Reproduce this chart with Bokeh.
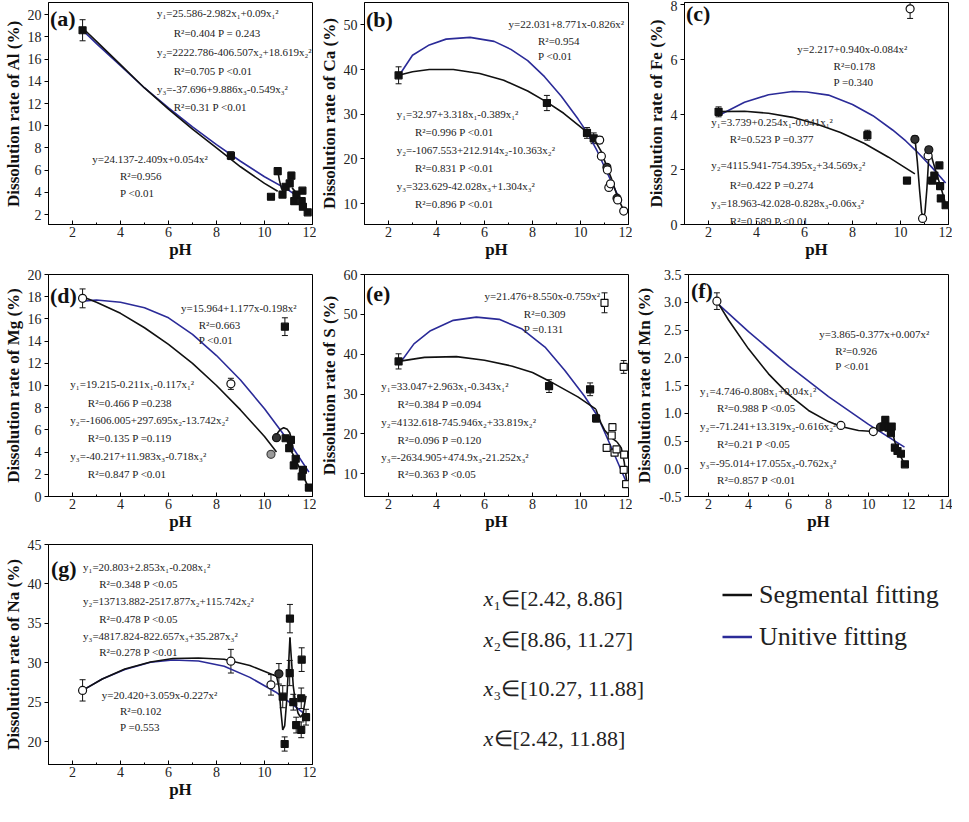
from bokeh.plotting import figure
from bokeh.layouts import row, column
from bokeh.models import (Range1d, FixedTicker, NumeralTickFormatter, Label,
                          Whisker, TeeHead, ColumnDataSource, Legend, LegendItem)
from bokeh.embed import file_html
from bokeh.resources import INLINE

SERIF = "Liberation Serif"
BLUE = "#2b2b98"
INK = "#111111"
TXT = "#222222"
NAN = float("nan")

# ---------------- data ----------------
x_ticks = [2, 4, 6, 8, 10, 12]
x_minor = [1, 3, 5, 7, 9, 11]
f_x_ticks = [2, 4, 6, 8, 10, 12, 14]
f_x_minor = [1, 3, 5, 7, 9, 11, 13]

# (a) Al
a_yticks = [2, 4, 6, 8, 10, 12, 14, 16, 18, 20]
a_ph = [2.42, 8.6, 10.27, 10.55, 10.75, 10.88, 11.05, 11.12, 11.24, 11.33, 11.55, 11.58, 11.6, 11.8]
a_rate = [18.6, 7.3, 3.6, 5.9, 3.8, 4.5, 4.8, 5.5, 3.2, 3.8, 3.2, 4.15, 2.7, 2.2]
a_err = [0.95, 0.35, 0, 0.3, 0, 0.2, 0.2, 0.3, 0, 0.15, 0, 0.2, 0.15, 0.1]
a_mark = ["s"] * 14
a_uni_ph = [2.42, 3, 4, 5, 6, 7, 8, 9, 10, 11, 11.6]
a_uni_rate = [18.6, 17.4, 15.4, 13.4, 11.6, 9.9, 8.3, 6.8, 5.4, 4.2, 3.3]
a_seg1_ph = [2.42, 3, 4, 5, 6, 7, 8, 9, 10, 10.55]
a_seg1_rate = [18.8, 17.6, 15.5, 13.4, 11.5, 9.7, 8.0, 6.3, 4.8, 4.1]
a_seg2_ph = [10.55, 10.62, 10.7, 10.8, 10.9, 11.0, 11.1]
a_seg2_rate = [6.0, 5.1, 4.4, 4.0, 4.2, 4.8, 5.6]
a_seg3_ph = [11.15, 11.35, 11.55, 11.7, 11.85]
a_seg3_rate = [4.4, 3.9, 3.3, 2.7, 2.1]
a_notes = ["y₁=25.586-2.982x₁+0.09x₁²", "R²=0.404  P = 0.243",
           "y₂=2222.786-406.507x₂+18.619x₂²", "R²=0.705  P <0.01",
           "y₃=-37.696+9.886x₃-0.549x₃²", "R²=0.31  P <0.01",
           "y=24.137-2.409x+0.054x²", "R²=0.956", "P <0.01"]

# (b) Ca
b_yticks = [10, 20, 30, 40, 50]
b_ph = [2.42, 8.6, 10.27, 10.55, 10.8, 10.87, 11.1, 11.12, 11.18, 11.25, 11.52, 11.55, 11.8]
b_rate = [38.7, 32.5, 25.8, 24.6, 24.2, 20.6, 18.1, 17.5, 13.6, 14.4, 11.2, 10.8, 8.3]
b_err = [1.9, 1.7, 1.2, 1.2, 0.8, 0.6, 0.5, 0.4, 0.4, 0.4, 0.5, 0.4, 0.3]
b_mark = ["s", "s", "s", "s", "o", "o", "c", "o", "o", "o", "c", "o", "o"]
b_uni_ph = [2.42, 3, 3.7, 4.4, 5.4, 6.4, 7.1, 7.8, 8.5, 9.2, 9.9, 10.3, 10.7, 11.1, 11.7]
b_uni_rate = [38.5, 43.2, 45.5, 46.8, 47.2, 46.3, 44.5, 42.0, 38.4, 34.0, 28.9, 25.7, 21.7, 17.0, 10.2]
b_seg1_ph = [2.42, 3, 3.7, 4.7, 5.8, 6.8, 7.8, 8.6, 9.3, 10.27]
b_seg1_rate = [38.7, 39.5, 40.0, 40.0, 39.1, 37.6, 35.2, 32.7, 30.2, 26.0]
b_seg2_ph = [10.27, 10.55, 10.85, 11.1, 11.3]
b_seg2_rate = [26.0, 24.6, 21.8, 18.2, 15.4]
b_seg3_ph = [11.3, 11.55, 11.8]
b_seg3_rate = [15.4, 11.4, 8.4]
b_notes = ["y=22.031+8.771x-0.826x²", "R²=0.954", "P <0.01",
           "y₁=32.97+3.318x₁-0.389x₁²", "R²=0.996  P <0.01",
           "y₂=-1067.553+212.914x₂-10.363x₂²", "R²=0.831  P <0.01",
           "y₃=323.629-42.028x₃+1.304x₃²", "R²=0.896  P <0.01"]

# (c) Fe
c_yticks = [0, 2, 4, 6, 8]
c_ph = [2.42, 8.62, 10.27, 10.4, 10.6, 10.92, 11.15, 11.18, 11.32, 11.41, 11.62, 11.65, 11.68, 11.88]
c_rate = [4.1, 3.25, 1.6, 7.85, 3.1, 0.22, 2.5, 2.72, 1.6, 1.78, 2.15, 1.4, 0.95, 0.7]
c_err = [0.18, 0.18, 0, 0.35, 0.12, 0.05, 0.1, 0.12, 0, 0, 0.1, 0, 0, 0]
c_mark = ["s", "s", "s", "o", "c", "o", "o", "c", "s", "s", "s", "s", "s", "s"]
c_uni_ph = [2.42, 3.5, 4.5, 5.5, 6.1, 7, 8, 8.85, 9.67, 10.22, 10.63, 11.32, 11.88]
c_uni_rate = [3.97, 4.45, 4.72, 4.84, 4.82, 4.71, 4.37, 3.96, 3.44, 3.04, 2.7, 2.07, 1.51]
c_seg1_ph = [2.42, 3.5, 4.5, 5.5, 6.5, 7.5, 8.5, 9.5, 10.6]
c_seg1_rate = [4.11, 4.12, 4.05, 3.9, 3.66, 3.35, 2.95, 2.45, 1.84]
c_seg2_ph = [10.6, 10.7, 10.8, 10.88, 10.95, 11.02, 11.1, 11.16, 11.2]
c_seg2_rate = [3.15, 2.3, 1.2, 0.45, 0.2, 0.45, 1.3, 2.2, 2.75]
c_seg3_ph = [11.2, 11.45, 11.7, 11.88]
c_seg3_rate = [2.75, 2.0, 1.3, 0.75]
c_notes = ["y=2.217+0.940x-0.084x²", "R²=0.178", "P =0.340",
           "y₁=3.739+0.254x₁-0.041x₁²", "R²=0.523  P =0.377",
           "y₂=4115.941-754.395x₂+34.569x₂²", "R²=0.422  P =0.274",
           "y₃=18.963-42.028-0.828x₃-0.06x₃²", "R²=0.589  P <0.01"]

# (d) Mg
d_yticks = [0, 2, 4, 6, 8, 10, 12, 14, 16, 18, 20]
d_ph = [2.42, 8.6, 10.27, 10.5, 10.85, 10.88, 11.1, 11.03, 11.22, 11.3, 11.55, 11.6, 11.85]
d_rate = [17.85, 10.15, 3.8, 5.3, 15.3, 5.25, 5.1, 4.35, 2.8, 3.4, 1.8, 2.4, 0.8]
d_err = [0.85, 0.5, 0, 0, 0.8, 0, 0, 0, 0, 0, 0, 0, 0]
d_mark = ["o", "o", "g", "c", "s", "s", "s", "s", "s", "s", "s", "s", "s"]
d_uni_ph = [2.42, 3, 4, 5, 6, 7, 8, 9, 10, 11, 11.85]
d_uni_rate = [17.6, 17.7, 17.5, 17.0, 16.1, 14.6, 12.7, 10.5, 7.9, 5.0, 2.2]
d_seg1_ph = [2.42, 3, 4, 5, 6, 7, 8, 9, 10, 10.5]
d_seg1_rate = [18.0, 17.5, 16.5, 15.2, 13.7, 12.0, 10.0, 7.8, 5.4, 4.0]
d_seg2_ph = [10.47, 10.55, 10.67, 10.8, 10.95, 11.05, 11.12, 11.18]
d_seg2_rate = [5.3, 5.75, 6.05, 6.2, 6.05, 5.75, 5.2, 4.4]
d_seg3_ph = [11.0, 11.3, 11.6, 11.9]
d_seg3_rate = [4.6, 3.3, 1.9, 0.5]
d_notes = ["y=15.964+1.177x-0.198x²", "R²=0.663", "P <0.01",
           "y₁=19.215-0.211x₁-0.117x₁²", "R²=0.466  P =0.238",
           "y₂=-1606.005+297.695x₂-13.742x₂²", "R²=0.135  P =0.119",
           "y₃=-40.217+11.983x₃-0.718x₃²", "R²=0.847  P <0.01"]

# (e) S
e_yticks = [10, 20, 30, 40, 50, 60]
e_ph = [2.42, 8.69, 10.4, 10.65, 11.0, 11.09, 11.3, 11.33, 11.42, 11.5, 11.8, 11.82, 11.8, 11.9]
e_rate = [38.2, 32.0, 31.2, 23.9, 52.9, 16.5, 19.6, 21.7, 15.3, 16.1, 36.8, 14.8, 11.0, 7.4]
e_err = [1.9, 1.6, 1.6, 0.9, 2.5, 0.6, 0.5, 0.6, 0.5, 0.4, 1.6, 0.5, 0.4, 0.5]
e_mark = ["s", "s", "s", "s", "q", "q", "q", "q", "q", "q", "q", "q", "q", "q"]
e_uni_ph = [2.42, 3.06, 3.75, 4.7, 5.66, 6.61, 7.57, 8.52, 9.34, 10.16, 10.71, 11.25, 11.88]
e_uni_rate = [37.3, 42.6, 45.9, 48.5, 49.3, 48.75, 46.3, 41.8, 36.0, 29.5, 24.5, 17.1, 8.3]
e_seg1_ph = [2.42, 3.5, 4.83, 6.0, 7.16, 8.0, 8.69, 9.89, 10.64]
e_seg1_rate = [38.2, 39.2, 39.4, 38.5, 37.0, 35.4, 33.3, 29.3, 26.2]
e_seg2_ph = [10.64, 10.84, 11.0, 11.25, 11.52]
e_seg2_rate = [26.2, 22.9, 21.0, 19.2, 18.0]
e_seg3_ph = [11.52, 11.7, 11.82, 11.93]
e_seg3_rate = [18.0, 16.5, 13.0, 8.0]
e_notes = ["y=21.476+8.550x-0.759x²", "R²=0.309", "P =0.131",
           "y₁=33.047+2.963x₁-0.343x₁²", "R²=0.384  P =0.094",
           "y₂=4132.618-745.946x₂+33.819x₂²", "R²=0.096 P =0.120",
           "y₃=-2634.905+474.9x₃-21.252x₃²", "R²=0.363 P <0.05"]

# (f) Mn
f_yticks = [-0.5, 0.0, 0.5, 1.0, 1.5, 2.0, 2.5, 3.0, 3.5]
f_ph = [2.42, 8.62, 10.24, 10.6, 10.76, 10.84, 11.0, 11.16, 11.12, 11.32, 11.45, 11.62, 11.82]
f_rate = [3.02, 0.78, 0.67, 0.75, 0.76, 0.88, 0.74, 0.76, 0.64, 0.38, 0.32, 0.27, 0.08]
f_err = [0.15, 0.03, 0.02, 0, 0, 0, 0, 0, 0, 0, 0, 0, 0]
f_mark = ["o", "o", "o", "c", "s", "s", "s", "s", "s", "s", "s", "s", "s"]
f_uni_ph = [2.42, 4, 6, 8, 10, 11.8]
f_uni_rate = [2.99, 2.47, 1.86, 1.3, 0.8, 0.39]
f_seg1_ph = [2.42, 3, 4, 5, 6, 7, 8, 8.62, 9.5, 10.24]
f_seg1_rate = [3.02, 2.68, 2.16, 1.71, 1.34, 1.05, 0.85, 0.76, 0.69, 0.67]
f_seg2_ph = [10.24, 10.6, 10.9, 11.16]
f_seg2_rate = [0.67, 0.72, 0.76, 0.76]
f_seg3_ph = [11.16, 11.3, 11.5, 11.82]
f_seg3_rate = [0.76, 0.5, 0.3, 0.07]
f_notes = ["y=3.865-0.377x+0.007x²", "R²=0.926", "P <0.01",
           "y₁=4.746-0.808x₁+0.04x₁²", "R²=0.988  P <0.05",
           "y₂=-71.241+13.319x₂-0.616x₂²", "R²=0.21  P <0.05",
           "y₃=-95.014+17.055x₃-0.762x₃²", "R²=0.857  P <0.01"]

# (g) Na
g_yticks = [20, 25, 30, 35, 40, 45]
g_ph = [2.42, 8.6, 10.27, 10.6, 10.76, 10.84, 11.06, 11.05, 11.2, 11.32, 11.53, 11.53, 11.55, 11.73]
g_rate = [26.5, 30.2, 27.2, 28.6, 25.7, 19.7, 35.6, 28.7, 25.0, 22.1, 25.5, 21.5, 30.4, 23.1]
g_err = [1.35, 1.5, 1.3, 1.3, 1.4, 0.9, 1.8, 1.6, 1.0, 1.0, 1.3, 1.0, 1.5, 1.0]
g_mark = ["o", "o", "o", "c", "s", "s", "s", "s", "s", "s", "s", "s", "s", "s"]
g_uni_ph = [2.42, 3.24, 4.18, 5.25, 6.18, 7.25, 8.32, 9.39, 10.46, 11.26, 11.8]
g_uni_rate = [26.5, 27.95, 29.15, 30.07, 30.35, 30.23, 29.55, 28.15, 26.3, 24.5, 23.2]
g_seg1_ph = [2.42, 3.24, 4.18, 5.25, 6.18, 7.25, 8.32, 9.39, 10.5]
g_seg1_rate = [26.5, 27.95, 29.2, 30.1, 30.55, 30.6, 30.45, 29.65, 28.3]
g_seg2_ph = [10.5, 10.6, 10.68, 10.76, 10.84, 10.92, 11.0, 11.06]
g_seg2_rate = [28.3, 27.0, 24.0, 21.5, 22.0, 25.0, 29.5, 33.2]
g_seg3_ph = [11.06, 11.12, 11.2, 11.3, 11.4, 11.5, 11.6, 11.73]
g_seg3_rate = [33.2, 30.5, 27.0, 24.8, 23.6, 23.1, 23.5, 25.8]
g_notes = ["y₁=20.803+2.853x₁-0.208x₁²", "R²=0.348  P <0.05",
           "y₂=13713.882-2517.877x₂+115.742x₂²", "R²=0.478  P <0.05",
           "y₃=4817.824-822.657x₃+35.287x₃²", "R²=0.278  P <0.01",
           "y=20.420+3.059x-0.227x²", "R²=0.102", "P =0.553"]

range_vars = ["x", "x", "x", "x"]
range_rest = ["₁∈[2.42, 8.86]", "₂∈[8.86, 11.27]", "₃∈[10.27, 11.88]", "∈[2.42, 11.88]"]
legend_labels = ["Segmental fitting", "Unitive fitting"]

# ---------------- layout (positions / sizes) ----------------
W1, W2, W3 = 316, 316, 320
R1, R2, R3 = 264, 272, 268
COLB = {1: (44, 4), 2: (46, 4), 3: (52, 4)}
ROWB = {1: (2, 40), 2: (10, 40), 3: (8, 40)}

NOTE_POS = {
    "a": [(5.52, 20.15), (6.22, 18.33), (5.52, 16.64), (6.22, 14.94), (5.52, 13.27), (6.22, 11.67), (2.82, 6.99), (3.98, 5.44), (3.98, 3.92)],
    "b": [(7.0, 50.2), (8.23, 46.4), (8.23, 43.0), (2.34, 30.0), (3.1, 26.0), (2.34, 22.06), (3.1, 17.9), (2.34, 14.0), (3.1, 9.8)],
    "c": [(5.7, 6.37), (7.21, 5.76), (7.21, 5.17), (2.11, 3.72), (2.89, 3.1), (2.11, 2.18), (2.89, 1.44), (2.11, 0.77), (2.89, 0.14)],
    "d": [(6.52, 16.98), (7.26, 15.45), (7.26, 14.13), (1.91, 10.1), (2.64, 8.46), (1.91, 6.85), (2.64, 5.23), (1.91, 3.65), (2.64, 2.0)],
    "e": [(6.0, 54.5), (7.64, 50.2), (7.64, 46.3), (1.7, 31.9), (2.38, 27.4), (1.7, 23.05), (2.38, 18.6), (1.7, 14.3), (2.38, 9.9)],
    "f": [(7.54, 2.42), (8.34, 2.13), (8.34, 1.86), (1.58, 1.4), (2.43, 1.09), (1.58, 0.77), (2.43, 0.44), (1.58, 0.105), (2.43, -0.2)],
    "g": [(2.44, 42.2), (3.11, 40.0), (2.44, 37.8), (3.11, 35.6), (2.44, 33.4), (3.11, 31.4), (3.22, 25.9), (3.98, 23.9), (3.98, 21.9)],
}
LETTER_POS = {"a": (1.06, 19.7), "b": (1.06, 51.3), "c": (1.06, 7.67), "d": (1.06, 18.1),
              "e": (1.06, 55.3), "f": (1.12, 3.21), "g": (1.1, 42.0)}

MARK = {"s": ("square", INK, INK, 7), "q": ("square", "white", INK, 7),
        "o": ("circle", "white", INK, 8), "c": ("circle", "#333333", INK, 8),
        "g": ("circle", "#9a9a9a", "#444444", 8)}


def make_panel(key, ylabel, width, colb, rowb, height, xr, yr, xt, xm, yt,
               ph, rate, err, marks, uni, segs, notes, yfmt=None):
    l, r = colb
    t, b = rowb
    p = figure(width=width, height=height, x_range=Range1d(*xr), y_range=Range1d(*yr),
               output_backend="svg", toolbar_location=None,
               min_border_left=l, min_border_right=r, min_border_top=t, min_border_bottom=b)
    p.grid.visible = False
    p.outline_line_color = "black"
    p.outline_line_width = 1
    xa, ya = p.xaxis[0], p.yaxis[0]
    xa.ticker = FixedTicker(ticks=xt, minor_ticks=xm)
    ya.ticker = FixedTicker(ticks=yt)
    if yfmt:
        ya.formatter = NumeralTickFormatter(format=yfmt)
    xa.major_tick_in, xa.major_tick_out = 4, 0
    xa.minor_tick_in, xa.minor_tick_out = 2, 0
    ya.major_tick_in, ya.major_tick_out = 0, 4
    ya.minor_tick_line_color = None
    for ax in (xa, ya):
        ax.axis_line_color = "black"
        ax.major_label_text_font = SERIF
        ax.major_label_text_font_size = "14px"
        ax.major_label_text_color = TXT
        ax.axis_label_text_font = SERIF
        ax.axis_label_text_font_style = "bold"
        ax.axis_label_text_color = "#111111"
    xa.axis_label = "pH"
    xa.axis_label_text_font_size = "17px"
    xa.major_label_standoff = 2
    xa.axis_label_standoff = 0
    ya.axis_label = ylabel
    ya.axis_label_text_font_size = "17px"
    ya.major_label_standoff = 3
    ya.axis_label_standoff = 2

    # curves
    p.line(uni[0], uni[1], line_color=BLUE, line_width=1.6)
    for sx, sy in segs:
        p.line(sx, sy, line_color=INK, line_width=1.6)

    # error bars
    eb = [(x, y, e) for x, y, e in zip(ph, rate, err) if e > 0]
    if eb:
        esrc = ColumnDataSource(dict(x=[v[0] for v in eb],
                                     lo=[v[1] - v[2] for v in eb],
                                     hi=[v[1] + v[2] for v in eb]))
        p.add_layout(Whisker(source=esrc, base="x", lower="lo", upper="hi",
                             line_color=INK, line_width=1,
                             lower_head=TeeHead(size=6, line_color=INK, line_width=1),
                             upper_head=TeeHead(size=6, line_color=INK, line_width=1)))

    # points
    src = ColumnDataSource(dict(x=ph, y=rate,
                                marker=[MARK[m][0] for m in marks],
                                fill=[MARK[m][1] for m in marks],
                                line=[MARK[m][2] for m in marks],
                                size=[MARK[m][3] for m in marks]))
    p.scatter(x="x", y="y", source=src, marker="marker", size="size",
              fill_color="fill", line_color="line", line_width=1.2)

    # annotations
    for txt, (nx, ny) in zip(notes, NOTE_POS[key]):
        p.add_layout(Label(x=nx, y=ny, text=txt, text_font=SERIF, text_font_size="11px",
                           text_color=TXT, text_baseline="middle", text_align="left"))
    lx, ly = LETTER_POS[key]
    p.add_layout(Label(x=lx, y=ly, text="(" + key + ")", text_font=SERIF,
                       text_font_size="22px", text_font_style="bold", text_color="#111111",
                       text_baseline="middle", text_align="left"))
    return p


pa = make_panel("a", "Dissolution rate of Al (%)", W1, COLB[1], ROWB[1], R1, (1, 12), (1.1, 21.1),
                x_ticks, x_minor, a_yticks, a_ph, a_rate, a_err, a_mark,
                (a_uni_ph, a_uni_rate),
                [(a_seg1_ph, a_seg1_rate), (a_seg2_ph, a_seg2_rate), (a_seg3_ph, a_seg3_rate)], a_notes)
pb = make_panel("b", "Dissolution rate of Ca (%)", W2, COLB[2], ROWB[1], R1, (1, 12), (5.3, 55),
                x_ticks, x_minor, b_yticks, b_ph, b_rate, b_err, b_mark,
                (b_uni_ph, b_uni_rate),
                [(b_seg1_ph, b_seg1_rate), (b_seg2_ph, b_seg2_rate), (b_seg3_ph, b_seg3_rate)], b_notes)
pc = make_panel("c", "Dissolution rate of Fe (%)", W3, COLB[3], ROWB[1], R1, (1, 12), (0, 8.08),
                x_ticks, x_minor, c_yticks, c_ph, c_rate, c_err, c_mark,
                (c_uni_ph, c_uni_rate),
                [(c_seg1_ph, c_seg1_rate), (c_seg2_ph, c_seg2_rate), (c_seg3_ph, c_seg3_rate)], c_notes)
pd_ = make_panel("d", "Dissolution rate of Mg (%)", W1, COLB[1], ROWB[2], R2, (1, 12), (0, 20),
                 x_ticks, x_minor, d_yticks, d_ph, d_rate, d_err, d_mark,
                 (d_uni_ph, d_uni_rate),
                 [(d_seg1_ph, d_seg1_rate), (d_seg2_ph, d_seg2_rate), (d_seg3_ph, d_seg3_rate)], d_notes)
pe = make_panel("e", "Dissolution rate of S (%)", W2, COLB[2], ROWB[2], R2, (1, 12), (4.3, 60),
                x_ticks, x_minor, e_yticks, e_ph, e_rate, e_err, e_mark,
                (e_uni_ph, e_uni_rate),
                [(e_seg1_ph, e_seg1_rate), (e_seg2_ph, e_seg2_rate), (e_seg3_ph, e_seg3_rate)], e_notes)
pf = make_panel("f", "Dissolution rate of Mn (%)", W3, COLB[3], ROWB[2], R2, (1, 14), (-0.5, 3.5),
                f_x_ticks, f_x_minor, f_yticks, f_ph, f_rate, f_err, f_mark,
                (f_uni_ph, f_uni_rate),
                [(f_seg1_ph, f_seg1_rate), (f_seg2_ph, f_seg2_rate), (f_seg3_ph, f_seg3_rate)], f_notes,
                yfmt="0.0")
pg = make_panel("g", "Dissolution rate of Na (%)", W1, COLB[1], ROWB[3], R3, (1, 12), (17.1, 45),
                x_ticks, x_minor, g_yticks, g_ph, g_rate, g_err, g_mark,
                (g_uni_ph, g_uni_rate),
                [(g_seg1_ph, g_seg1_rate), (g_seg2_ph, g_seg2_rate), (g_seg3_ph, g_seg3_rate)], g_notes)

# ---------------- legend / range panel ----------------
FW = W2 + W3
FH = R3 - ROWB[3][0] - ROWB[3][1]          # frame height, same as panel (g)
fx = figure(width=FW, height=R3, x_range=Range1d(0, FW), y_range=Range1d(0, FH),
            output_backend="svg", toolbar_location=None, x_axis_type=None, y_axis_type=None,
            min_border_left=0, min_border_right=0,
            min_border_top=ROWB[3][0], min_border_bottom=ROWB[3][1])
fx.grid.visible = False
fx.outline_line_color = None

RANGE_X = 167
RANGE_Y = [166, 125, 76, 26]
for v, rest, ry in zip(range_vars, range_rest, RANGE_Y):
    fx.add_layout(Label(x=RANGE_X, y=ry, text=v, text_font=SERIF, text_font_size="22px",
                        text_font_style="italic", text_color=TXT, text_baseline="middle"))
    fx.add_layout(Label(x=RANGE_X + 10, y=ry, text=rest, text_font=SERIF, text_font_size="22px",
                        text_color=TXT, text_baseline="middle"))

# legend swatches: renderers with no visible data
r_seg = fx.line(x=[NAN], y=[NAN], line_color=INK, line_width=2.5)
r_uni = fx.line(x=[NAN], y=[NAN], line_color=BLUE, line_width=2.5)
legend = Legend(items=[LegendItem(label=legend_labels[0], renderers=[r_seg]),
                       LegendItem(label=legend_labels[1], renderers=[r_uni])],
                location=(406, 111), orientation="vertical",
                label_text_font=SERIF, label_text_font_size="26px", label_text_color=TXT,
                glyph_width=30, glyph_height=33, label_height=33, label_standoff=7,
                spacing=9, padding=0, margin=0,
                border_line_color=None, background_fill_alpha=0)
fx.add_layout(legend)

layout = column(row(pa, pb, pc), row(pd_, pe, pf), row(pg, fx))

with open("out.html", "w", encoding="utf-8") as fh:
    fh.write(file_html(layout, INLINE, title="Dissolution rate vs pH"))
